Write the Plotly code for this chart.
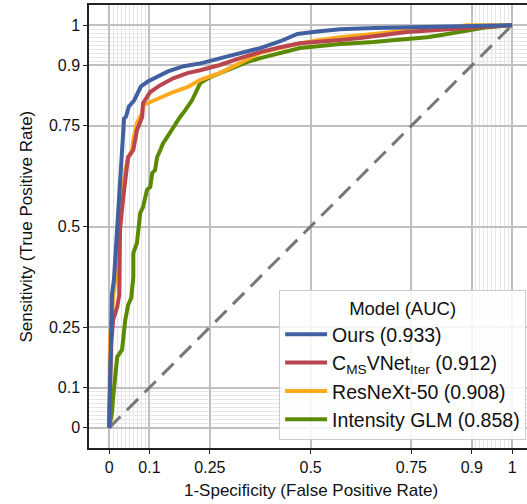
import plotly.graph_objects as go

# ROC curve points (FPR, TPR)
ours_fpr = [0, 0.002, 0.005, 0.007, 0.012, 0.015, 0.02, 0.025, 0.03, 0.035, 0.037, 0.042, 0.049, 0.062, 0.079, 0.096, 0.121, 0.146, 0.185, 0.227, 0.277, 0.326, 0.375, 0.425, 0.467, 0.523, 0.573, 0.66, 0.753, 0.82, 0.9, 1.0]
ours_tpr = [0, 0.12, 0.244, 0.332, 0.369, 0.419, 0.501, 0.581, 0.656, 0.718, 0.768, 0.773, 0.798, 0.813, 0.848, 0.86, 0.873, 0.885, 0.898, 0.905, 0.918, 0.93, 0.943, 0.96, 0.978, 0.985, 0.99, 0.993, 0.995, 0.996, 0.997, 1.0]

cms_fpr = [0, 0.002, 0.005, 0.01, 0.02, 0.025, 0.027, 0.027, 0.035, 0.045, 0.047, 0.06, 0.069, 0.082, 0.084, 0.102, 0.127, 0.159, 0.194, 0.226, 0.275, 0.325, 0.375, 0.424, 0.474, 0.573, 0.623, 0.739, 0.821, 0.903, 1.0]
cms_tpr = [0, 0.119, 0.206, 0.268, 0.3, 0.33, 0.417, 0.491, 0.573, 0.658, 0.672, 0.69, 0.739, 0.772, 0.806, 0.834, 0.851, 0.868, 0.881, 0.888, 0.901, 0.918, 0.933, 0.945, 0.955, 0.963, 0.968, 0.983, 0.988, 0.993, 1.0]

resnext_fpr = [0, 0.0, 0.002, 0.007, 0.01, 0.017, 0.022, 0.027, 0.032, 0.04, 0.047, 0.057, 0.06, 0.069, 0.082, 0.084, 0.102, 0.127, 0.159, 0.194, 0.226, 0.275, 0.325, 0.375, 0.424, 0.474, 0.524, 0.573, 0.655, 0.754, 0.814, 0.888, 1.0]
resnext_tpr = [0, 0.14, 0.226, 0.268, 0.325, 0.375, 0.449, 0.524, 0.573, 0.64, 0.67, 0.69, 0.715, 0.757, 0.782, 0.801, 0.809, 0.819, 0.834, 0.846, 0.864, 0.881, 0.906, 0.931, 0.943, 0.955, 0.963, 0.97, 0.978, 0.988, 0.99, 1.0, 1.0]

glm_fpr = [0, 0.007, 0.01, 0.015, 0.02, 0.032, 0.035, 0.04, 0.047, 0.055, 0.06, 0.06, 0.069, 0.077, 0.084, 0.094, 0.102, 0.107, 0.114, 0.119, 0.127, 0.134, 0.144, 0.159, 0.176, 0.189, 0.206, 0.218, 0.226, 0.251, 0.275, 0.308, 0.342, 0.375, 0.407, 0.442, 0.474, 0.524, 0.573, 0.655, 0.739, 0.789, 0.821, 0.854, 0.888, 0.928, 0.94, 1.0]
glm_tpr = [0, 0.037, 0.077, 0.119, 0.176, 0.194, 0.226, 0.268, 0.305, 0.323, 0.375, 0.434, 0.459, 0.533, 0.548, 0.591, 0.598, 0.633, 0.64, 0.672, 0.69, 0.707, 0.722, 0.747, 0.772, 0.789, 0.814, 0.839, 0.856, 0.871, 0.881, 0.893, 0.908, 0.918, 0.926, 0.933, 0.943, 0.948, 0.953, 0.958, 0.965, 0.97, 0.975, 0.98, 0.985, 0.993, 0.995, 1.0]

series_names = ["Ours (0.933)", "C<sub>MS</sub>VNet<sub>Iter</sub> (0.912)", "ResNeXt-50 (0.908)", "Intensity GLM (0.858)"]
series_colors = ["#4160a2", "#b9464f", "#ffa91c", "#5b8a00"]

tick_vals = [0, 0.1, 0.25, 0.5, 0.75, 0.9, 1]
tick_text = ["0", "0.1", "0.25", "0.5", "0.75", "0.9", "1"]
minor_vals = [i / 100 for i in range(1, 10)] + [0.9 + i / 100 for i in range(1, 10)]

fig = go.Figure()
fig.add_trace(go.Scatter(x=[0, 1], y=[0, 1], mode="lines", showlegend=False,
                         line=dict(color="#777777", width=3, dash="16px,9px"), hoverinfo="skip"))
for (xs, ys), name, col in zip([(ours_fpr, ours_tpr), (cms_fpr, cms_tpr), (resnext_fpr, resnext_tpr), (glm_fpr, glm_tpr)][::-1],
                               series_names[::-1], series_colors[::-1]):
    fig.add_trace(go.Scatter(x=xs, y=ys, mode="lines", name=name,
                             line=dict(color=col, width=4)))

axis_common = dict(
    tickmode="array", tickvals=tick_vals, ticktext=tick_text,
    showgrid=True, gridcolor="#c0c0c0", gridwidth=1.5,
    minor=dict(tickmode="array", tickvals=minor_vals, showgrid=True, gridcolor="#e6e6e6", gridwidth=1, ticks=""),
    showline=True, linecolor="#222222", linewidth=1.5,
    ticks="outside", ticklen=4, tickcolor="#222222", tickwidth=1,
    zeroline=False, tickfont=dict(size=16, color="#111111"), automargin=False,
)

fig.update_layout(
    width=527, height=504, autosize=False,
    margin=dict(l=89, r=0, t=5, b=56, autoexpand=False),
    paper_bgcolor="white", plot_bgcolor="white",
    font=dict(family="Liberation Sans, Arial, sans-serif", color="#111111"),
    xaxis=dict(range=[-0.05, 1.037], mirror=True, **axis_common),
    yaxis=dict(range=[-0.05, 1.05], **axis_common),
    legend=dict(x=0.998, y=0.018, xanchor="right", yanchor="bottom",
                bgcolor="rgba(255,255,255,0.85)", bordercolor="#cccccc", borderwidth=1,
                font=dict(size=19.5), traceorder="reversed", itemwidth=42,
                title=dict(text="Model (AUC)", side="top center", font=dict(size=18.5))),
    annotations=[
        dict(text="1-Specificity (False Positive Rate)", xref="x", yref="paper",
             x=0.5, y=0, yshift=-42, yanchor="middle", showarrow=False, font=dict(size=17)),
        dict(text="Sensitivity (True Positive Rate)", xref="paper", yref="y",
             x=0, y=0.5, xshift=-63, xanchor="center", textangle=-90, showarrow=False, font=dict(size=17)),
    ],
)

fig.write_html("out.html", config={"displayModeBar": False, "responsive": False},
               post_script="document.documentElement.style.margin='0';document.body.style.margin='0';document.body.style.padding='0';document.body.style.overflow='hidden';")
